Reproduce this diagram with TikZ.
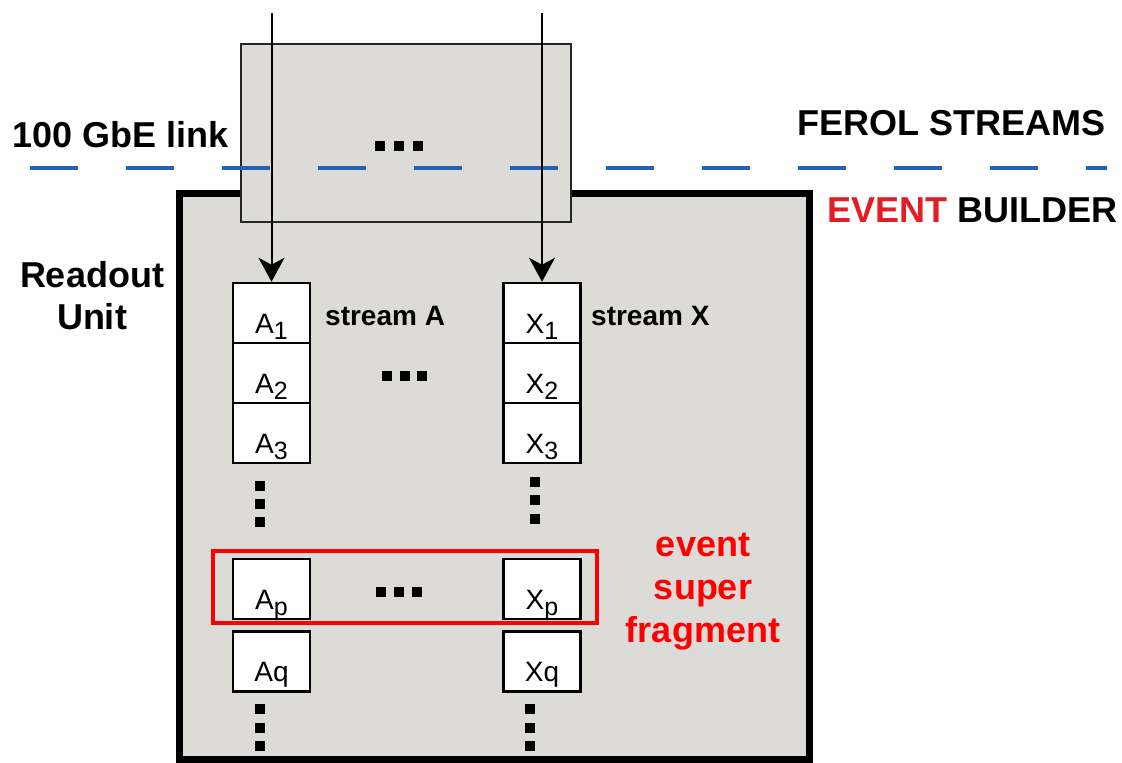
\documentclass[tikz,border=0pt]{standalone}
\usepackage{fontspec}
\setmainfont{Liberation Sans}
\usetikzlibrary{arrows.meta}
\definecolor{ebgray}{HTML}{DCDBD7}
\definecolor{linkblue}{HTML}{1F62B7}
\definecolor{evred}{HTML}{E31D25}
\newcommand\lbl[2]{#1\raisebox{-6pt}{\fontsize{25}{25}\selectfont #2}}
\newcommand\dotsq[2]{\fill[black] (#1-5,#2-5) rectangle (#1+5,#2+5);}
\begin{document}
\begin{tikzpicture}[x=1pt,y=-1pt,
  bigfont/.style={font=\fontsize{36}{42}\selectfont\bfseries},
  midfont/.style={font=\fontsize{28}{28}\selectfont\bfseries},
  cell/.style={draw=black, line width=2.5pt, fill=white, minimum width=77pt,
    inner sep=0pt, text height=50pt, text depth=10pt,
    font=\fontsize{28}{28}\selectfont},
  arr/.style={draw=black, line width=2pt, -{Stealth[length=24pt,width=26pt,inset=7pt]}},
  txt/.style={inner sep=0pt}]
\useasboundingbox (0,0) rectangle (1122,763);
% event builder box
\node[draw=black, line width=7pt, fill=ebgray, minimum width=630pt, minimum height=566pt, inner sep=0pt] (eb) at (494.5,476.5) {};
% ferol box
\node[draw=black!85, line width=2pt, fill=ebgray, minimum width=330pt, minimum height=178pt, inner sep=0pt] (ferol) at (406,133) {};
\dotsq{380}{146}\dotsq{399}{146}\dotsq{418}{146}
% dashed link line
\coordinate (dl) at (30,168);
\coordinate (dr) at (1107,168);
\draw[linkblue, line width=4pt, dash pattern=on 48pt off 48pt] (dl) -- (dr);
% texts
\node[bigfont, txt, anchor=base west] (gbe) at (12,147) {100 GbE link};
\node[bigfont, txt, anchor=base east] (ferolt) at (1106,135) {FEROL STREAMS};
\node[bigfont, txt, anchor=base west] (ebt) at (827,222) {\textcolor{evred}{EVENT} BUILDER};
\node[bigfont, txt, align=center] (ru) at (92,296) {Readout\\Unit};
\node[midfont, txt, anchor=base west] (sA) at (325,325) {stream A};
\node[midfont, txt, anchor=base west] (sX) at (591,325) {stream X};
\node[txt, text=red, align=center, anchor=north, font=\fontsize{36}{43}\selectfont\bfseries] (esft) at (703,533) {event\\super\\fragment};
% cells
\node[cell] (A1) at (271.5,313) {\lbl{A}{1}};
\node[cell] (A2) at (271.5,373) {\lbl{A}{2}};
\node[cell] (A3) at (271.5,433) {\lbl{A}{3}};
\node[cell] (X1) at (542,313) {\lbl{X}{1}};
\node[cell] (X2) at (542,373) {\lbl{X}{2}};
\node[cell] (X3) at (542,433) {\lbl{X}{3}};
\node[cell] (Ap) at (271.5,589) {\lbl{A}{p}};
\node[cell] (Xp) at (542,589) {\lbl{X}{p}};
\node[cell] (Aq) at (271.5,661.5) {Aq};
\node[cell] (Xq) at (542,661.5) {Xq};
% event super fragment frame
\node[draw=red, line width=4.5pt, minimum width=384pt, minimum height=72pt, inner sep=0pt] (esf) at (405,587) {};
% dots
\dotsq{387}{376}\dotsq{404.5}{376}\dotsq{422}{376}
\dotsq{381}{592}\dotsq{399}{592}\dotsq{417}{592}
\dotsq{260}{486}\dotsq{260}{504}\dotsq{260}{522}
\dotsq{535}{481.5}\dotsq{535}{500}\dotsq{535}{518.5}
\dotsq{260}{709}\dotsq{260}{727.5}\dotsq{260}{746}
\dotsq{529.5}{709}\dotsq{529.5}{727.5}\dotsq{529.5}{746}
% arrows
\coordinate (sa) at (271.5,13);
\coordinate (sx) at (542,13);
\draw[arr] (sa) -- (A1.north);
\draw[arr] (sx) -- (X1.north);
\end{tikzpicture}
\end{document}
